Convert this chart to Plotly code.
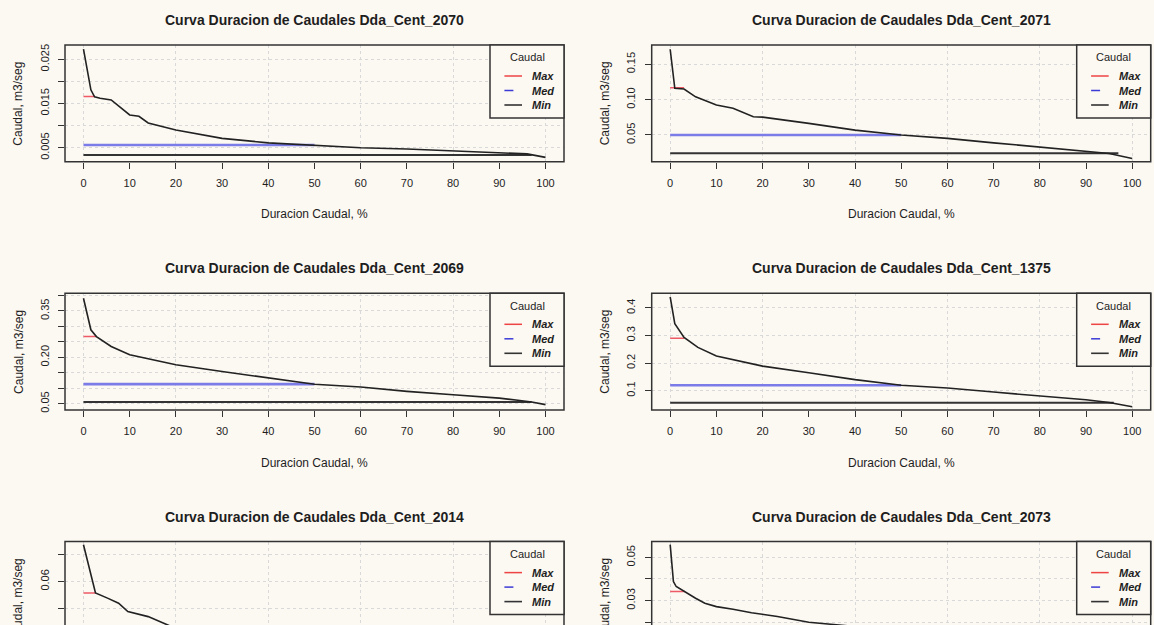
import plotly.graph_objects as go

W, H = 1154, 625

# ---------------- data ----------------
titles = ["Curva Duracion de Caudales Dda_Cent_2070", "Curva Duracion de Caudales Dda_Cent_2071",
          "Curva Duracion de Caudales Dda_Cent_2069", "Curva Duracion de Caudales Dda_Cent_1375",
          "Curva Duracion de Caudales Dda_Cent_2014", "Curva Duracion de Caudales Dda_Cent_2073"]
x_label = "Duracion Caudal, %"
y_label = "Caudal, m3/seg"
legend_title = "Caudal"
legend_items = ["Max", "Med", "Min"]
x_ticks = [0, 10, 20, 30, 40, 50, 60, 70, 80, 90, 100]
x_grid = [0, 20, 40, 60, 80, 100]

pct_2070 = [0, 1.6, 2.4, 3.6, 6, 8, 10, 12, 14, 20, 26, 30, 40, 50, 60, 70, 80, 90, 96, 100]
q_2070 = [0.0273, 0.0181, 0.0165, 0.0162, 0.0158, 0.0142, 0.0124, 0.0121, 0.0106, 0.0090, 0.0079, 0.0071,
          0.0061, 0.0056, 0.0050, 0.0047, 0.0043, 0.0039, 0.0036, 0.0028]

pct_2071 = [0, 1, 3, 5.5, 10, 13.6, 18, 20, 30, 40, 50, 60, 70, 80, 90, 95, 100]
q_2071 = [0.1713, 0.116, 0.115, 0.104, 0.0924, 0.0877, 0.0758, 0.0752, 0.0664, 0.0569, 0.050, 0.0452,
          0.0389, 0.0333, 0.0276, 0.0239, 0.0168]

pct_2069 = [0, 1.6, 2.8, 6, 10, 20, 30, 40, 50, 60, 70, 80, 90, 94, 97, 100]
q_2069 = [0.391, 0.289, 0.267, 0.235, 0.208, 0.176, 0.154, 0.133, 0.113, 0.104, 0.090, 0.079, 0.068,
          0.061, 0.0555, 0.047]

pct_1375 = [0, 1, 3, 6, 10, 20, 30, 40, 50, 60, 70, 80, 90, 95, 100]
q_1375 = [0.440, 0.343, 0.293, 0.257, 0.226, 0.189, 0.165, 0.140, 0.1195, 0.110, 0.095, 0.0816, 0.067,
          0.057, 0.042]

pct_2014 = [0, 1.6, 2.6, 5.2, 7.6, 9.6, 12, 14, 20, 30, 40, 50, 60, 70, 80, 90, 96, 100]
q_2014 = [0.0737, 0.0619, 0.0557, 0.0538, 0.0519, 0.0488, 0.0478, 0.0469, 0.0425, 0.039, 0.036, 0.033,
          0.030, 0.027, 0.024, 0.020, 0.016, 0.012]

pct_2073 = [0, 0.4, 0.7, 1.3, 3, 5.5, 7.5, 10, 13.6, 17.6, 23.2, 30, 40, 50, 60, 70, 80, 90, 96, 100]
q_2073 = [0.0559, 0.0443, 0.0388, 0.0365, 0.0342, 0.0311, 0.0288, 0.0272, 0.026, 0.0244, 0.0226, 0.020,
          0.018, 0.016, 0.014, 0.012, 0.010, 0.008, 0.007, 0.005]

pct_series = [pct_2070, pct_2071, pct_2069, pct_1375, pct_2014, pct_2073]
q_series = [q_2070, q_2071, q_2069, q_1375, q_2014, q_2073]

max_value = [0.0166, 0.1167, 0.267, 0.290, 0.0557, 0.0342]
max_end = [2.5, 3.0, 2.8, 3.0, 2.6, 3.2]
med_value = [0.0056, 0.050, 0.1135, 0.1195, 0.033, 0.016]
med_end = [50, 50, 50, 50, 50, 50]
min_value = [0.00334, 0.024, 0.0555, 0.056, 0.016, 0.007]
min_end = [97, 97, 97, 96, 96, 96]

y_tickvals = [[0.005, 0.010, 0.015, 0.020, 0.025],
              [0.05, 0.10, 0.15],
              [0.05, 0.10, 0.15, 0.20, 0.25, 0.30, 0.35, 0.40],
              [0.1, 0.2, 0.3, 0.4],
              [0.05, 0.06, 0.07],
              [0.02, 0.03, 0.04, 0.05]]
y_ticktext = [["0.005", "", "0.015", "", "0.025"],
              ["0.05", "0.10", "0.15"],
              ["0.05", "", "", "0.20", "", "", "0.35", ""],
              ["0.1", "0.2", "0.3", "0.4"],
              ["", "0.06", ""],
              ["", "0.03", "", "0.05"]]
y_ranges = [[0.00183, 0.02824], [0.0122, 0.1773], [0.0297, 0.407], [0.030, 0.453],
            [0.04378, 0.07487], [0.0187, 0.0573]]

# ---------------- layout geometry (pixels) ----------------
BG = "#fcf8f2"
FONT = "Liberation Sans, Arial, sans-serif"
TXT = "#1e1e1e"
col_left = [65, 651.7]
box_w = 499
row_top = [45, 293.3, 541.6]
box_h = 116.7
leg_w, leg_h = 74, 73


def px(x):
    return x / W


def py(y):
    return 1 - y / H


fig = go.Figure()
annotations = []
shapes = []

for i in range(6):
    r, c = divmod(i, 2)
    n = i + 1
    xs = "" if n == 1 else str(n)
    L = col_left[c]
    R = L + box_w
    T = row_top[r]
    B = T + box_h
    x_dom = [px(L), px(R)]
    y_dom = [max(0.0, py(B)), py(T)]
    bottom_row = r == 2  # its lower part lies below the visible page

    xref = "x" + xs
    yref = "y" + xs

    # reference lines
    fig.add_trace(go.Scatter(x=[0, max_end[i]], y=[max_value[i], max_value[i]], mode="lines",
                             line=dict(color="#ee5a66", width=1.5), xaxis=xref, yaxis=yref,
                             showlegend=False, hoverinfo="skip"))
    fig.add_trace(go.Scatter(x=[0, med_end[i]], y=[med_value[i], med_value[i]], mode="lines",
                             line=dict(color="#7c7ce8", width=2.6), xaxis=xref, yaxis=yref,
                             showlegend=False, hoverinfo="skip"))
    fig.add_trace(go.Scatter(x=[0, min_end[i]], y=[min_value[i], min_value[i]], mode="lines",
                             line=dict(color="#333333", width=2), xaxis=xref, yaxis=yref,
                             showlegend=False, hoverinfo="skip"))
    # duration curve
    fig.add_trace(go.Scatter(x=pct_series[i], y=q_series[i], mode="lines",
                             line=dict(color="#222222", width=1.6), xaxis=xref, yaxis=yref,
                             showlegend=False, name=titles[i]))

    fig.layout["xaxis" + xs] = dict(
        domain=x_dom, range=[-4, 104], anchor=yref, showline=False, zeroline=False,
        automargin=False,
        tickmode="array", tickvals=x_ticks, ticktext=[str(v) for v in x_ticks],
        ticks="" if bottom_row else "outside", showticklabels=not bottom_row,
        ticklen=6, tickwidth=1, tickcolor="#333",
        tickfont=dict(family=FONT, size=11, color=TXT), ticklabelstandoff=5,
        showgrid=False,
        minor=dict(tickmode="array", tickvals=x_grid, showgrid=True, gridcolor="#d9d9d9",
                   griddash="dot", gridwidth=1, ticks=""),
    )
    fig.layout["yaxis" + xs] = dict(
        domain=y_dom, range=y_ranges[i], anchor=xref, showline=False, zeroline=False,
        automargin=False,
        tickmode="array", tickvals=y_tickvals[i], ticktext=y_ticktext[i],
        ticks="outside", ticklen=6, tickwidth=1, tickcolor="#333", tickangle=-90,
        tickfont=dict(family=FONT, size=11, color=TXT), ticklabelstandoff=5,
        showgrid=True, gridcolor="#d9d9d9", griddash="dot", gridwidth=1,
    )

    # plot box
    shapes.append(dict(type="rect", xref=xref + " domain", yref=yref + " domain",
                       x0=0, x1=1, y0=(-0.6 if bottom_row else 0), y1=1,
                       line=dict(color="#333333", width=1.5), layer="above"))

    cx = (L + R) / 2
    # title
    annotations.append(dict(text="<b>" + titles[i] + "</b>", x=px(cx), y=py(T - 25), xref="paper",
                            yref="paper", showarrow=False, xanchor="center", yanchor="middle",
                            font=dict(family=FONT, size=14, color=TXT)))
    # x axis title (bottom row's title lies below the visible page)
    if not bottom_row:
        annotations.append(dict(text=x_label, x=px(cx), y=py(B + 52.7), xref="paper", yref="paper",
                                showarrow=False, xanchor="center", yanchor="middle",
                                font=dict(family=FONT, size=12, color=TXT)))
    # y axis title
    annotations.append(dict(text=y_label, x=px(L - 46.7), y=py((T + B) / 2), xref="paper",
                            yref="paper", showarrow=False, xanchor="center", yanchor="middle",
                            textangle=-90, font=dict(family=FONT, size=12, color=TXT)))

    # legend box
    lx0 = R - leg_w
    shapes.append(dict(type="rect", xref="paper", yref="paper", x0=px(lx0), x1=px(R),
                       y0=py(T + leg_h), y1=py(T), line=dict(color="#333333", width=1.5),
                       fillcolor=BG, layer="above"))
    annotations.append(dict(text=legend_title, x=px(lx0 + leg_w / 2), y=py(T + 12.3), xref="paper",
                            yref="paper", showarrow=False, xanchor="center", yanchor="middle",
                            font=dict(family=FONT, size=11, color=TXT)))
    leg_styles = [dict(color="#ee4444", width=1.5), dict(color="#3b3bd6", width=1.5, dash="dash"),
                  dict(color="#333333", width=1.6)]
    for k, item in enumerate(legend_items):
        yy = T + 31 + 14.5 * k
        shapes.append(dict(type="line", xref="paper", yref="paper", x0=px(lx0 + 14.4),
                           x1=px(lx0 + 32), y0=py(yy), y1=py(yy), line=leg_styles[k], layer="above"))
        annotations.append(dict(text="<b><i>" + item + "</i></b>", x=px(lx0 + 40), y=py(yy),
                                xref="paper", yref="paper", showarrow=False, xanchor="left",
                                yanchor="middle", font=dict(family=FONT, size=11, color=TXT)))

fig.update_layout(width=W, height=H, margin=dict(l=0, r=0, t=0, b=0, autoexpand=False),
                  paper_bgcolor=BG, plot_bgcolor=BG, showlegend=False,
                  annotations=annotations, shapes=shapes)

fig.write_html("out.html")
